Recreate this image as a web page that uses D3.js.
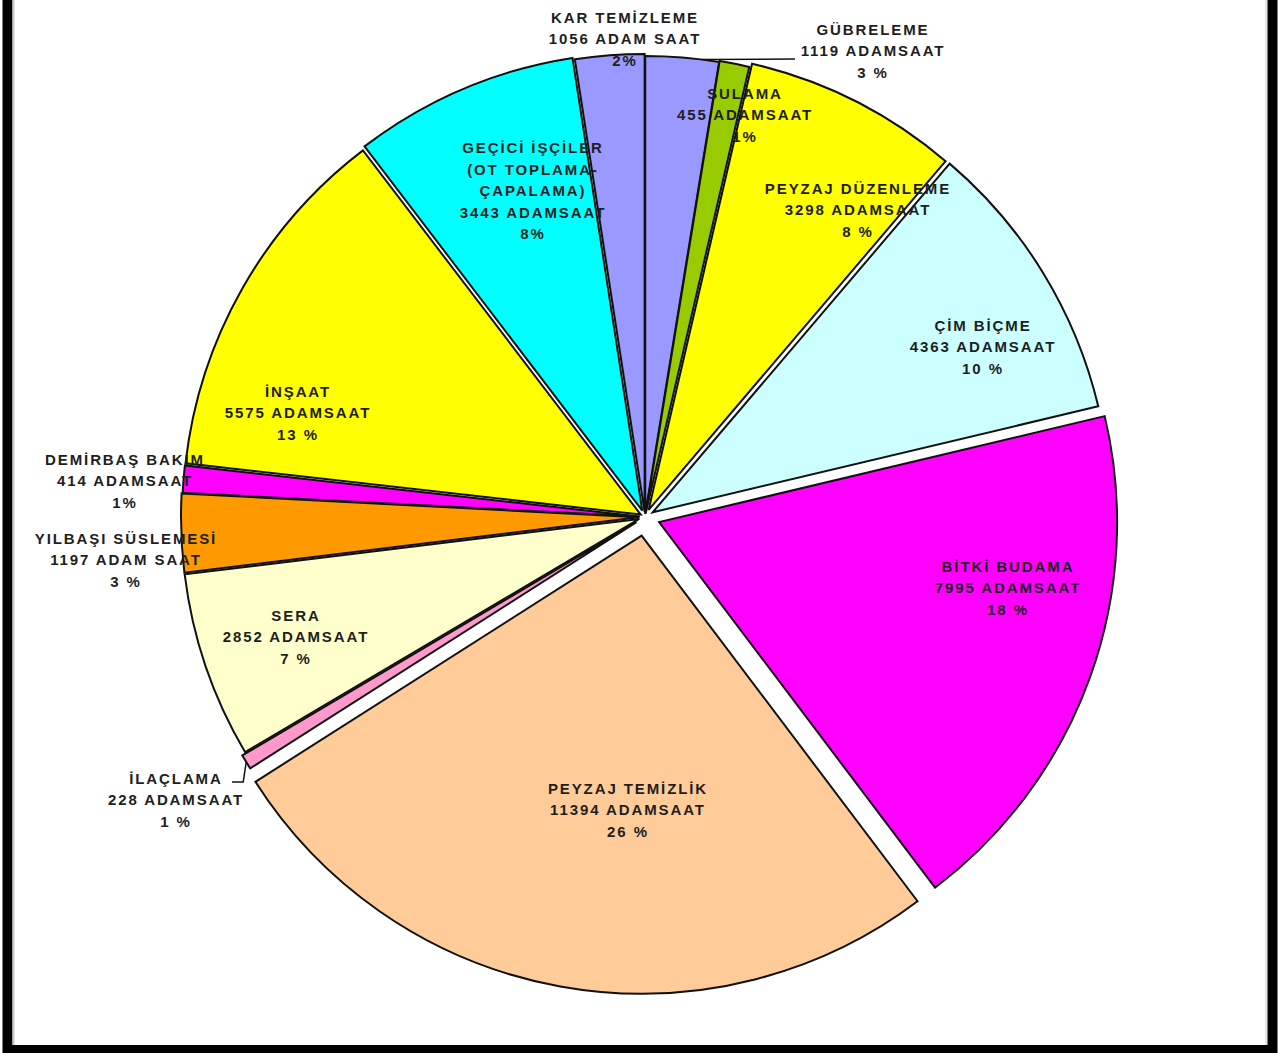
<!DOCTYPE html>
<html>
<head>
<meta charset="utf-8">
<script src="https://cdn.jsdelivr.net/npm/d3@7/dist/d3.min.js"></script>
<style>
  html, body { margin: 0; padding: 0; background: #fff; }
  svg { display: block; }
  text { font-family: "Liberation Sans", Arial, sans-serif; font-weight: bold; }
</style>
</head>
<body>
<svg id="chart" width="1281" height="1053"></svg>
<script>
// ---- data (clockwise from 12 o'clock) ----
const categories = ["GÜBRELEME", "SULAMA", "PEYZAJ DÜZENLEME", "ÇİM BİÇME", "BİTKİ BUDAMA",
  "PEYZAJ TEMİZLİK", "İLAÇLAMA", "SERA", "YILBAŞI SÜSLEMESİ", "DEMİRBAŞ BAKIM", "İNŞAAT",
  "GEÇİCİ İŞÇİLER|(OT TOPLAMA-|ÇAPALAMA)", "KAR TEMİZLEME"];
const values = [1119, 455, 3298, 4363, 7995, 11394, 228, 2852, 1197, 414, 5575, 3443, 1056];
const unitLabels = ["ADAMSAAT", "ADAMSAAT", "ADAMSAAT", "ADAMSAAT", "ADAMSAAT", "ADAMSAAT",
  "ADAMSAAT", "ADAMSAAT", "ADAM SAAT", "ADAMSAAT", "ADAMSAAT", "ADAMSAAT", "ADAM SAAT"];
const percentLabels = ["3 %", "1%", "8 %", "10 %", "18 %", "26 %", "1 %", "7 %", "3 %", "1%", "13 %", "8%", "2%"];

// ---- styles / layout ----
const colors = ["#9999FF", "#99CC00", "#FFFF00", "#CCFFFF", "#FF00FF", "#FFCC99", "#FF99CC",
  "#FFFFCC", "#FF9900", "#FF00FF", "#FFFF00", "#00FFFF", "#9999FF"];
const explode = [3, 4, 8, 9, 15, 19, 10, 6, 6, 5, 5, 7, 5];
const labelCenters = [[873, 51], [745, 115], [858, 210], [983, 347], [1008, 588], [628, 810],
  [176, 800], [296, 637], [126, 560], [125, 481], [298, 413], [533, 191], [625, 39]];
const cx = 645, cy = 517, R = 458;
const lineH = 21.5;

const svg = d3.select("#chart");

// frame
svg.append("rect").attr("x", 7.5).attr("y", -30).attr("width", 1265).attr("height", 1080)
  .attr("fill", "none").attr("stroke", "#000").attr("stroke-width", 10);
svg.append("line").attr("x1", 13.5).attr("x2", 13.5).attr("y1", 0).attr("y2", 1045)
  .attr("stroke", "#c8c8c8").attr("stroke-width", 2);
svg.append("line").attr("x1", 1266).attr("x2", 1266).attr("y1", 0).attr("y2", 1045)
  .attr("stroke", "#c8c8c8").attr("stroke-width", 1);

const pie = d3.pie().value(d => d).sort(null);
const arcs = pie(values);
const arc = d3.arc().innerRadius(0).outerRadius(R);

const g = svg.append("g").attr("transform", `translate(${cx},${cy})`);

g.selectAll("path.slice").data(arcs).join("path")
  .attr("class", "slice")
  .attr("transform", (d, i) => {
    const a = (d.startAngle + d.endAngle) / 2;
    return `translate(${explode[i] * Math.sin(a)},${-explode[i] * Math.cos(a)})`;
  })
  .attr("d", arc)
  .attr("fill", (d, i) => colors[i])
  .attr("stroke", "#111")
  .attr("stroke-width", 2)
  .attr("stroke-linejoin", "miter");

// leader lines (GÜBRELEME and İLAÇLAMA)
function arcPoint(i, r) {
  const d = arcs[i];
  const a = (d.startAngle + d.endAngle) / 2;
  const e = explode[i];
  return [cx + (r + e) * Math.sin(a), cy - (r + e) * Math.cos(a)];
}
const p0 = arcPoint(0, R);
svg.append("polyline")
  .attr("points", [[p0[0] + 20, p0[1] + 2], [795, 59]].map(p => p.join(",")).join(" "))
  .attr("fill", "none").attr("stroke", "#111").attr("stroke-width", 1.5);
const p6 = arcPoint(6, R);
svg.append("polyline")
  .attr("points", [p6, [p6[0] - 3, 782], [232, 782]].map(p => p.join(",")).join(" "))
  .attr("fill", "none").attr("stroke", "#111").attr("stroke-width", 1.5);

// labels
categories.forEach((name, i) => {
  const lines = name.split("|").concat([values[i] + " " + unitLabels[i], percentLabels[i]]);
  const [lx, ly] = labelCenters[i];
  const top = ly - (lines.length - 1) * lineH / 2;
  const t = svg.append("text")
    .attr("text-anchor", "middle")
    .attr("font-size", 15)
    .attr("fill", "#1e1e1e")
    .attr("letter-spacing", 1.9);
  lines.forEach((ln, k) => {
    t.append("tspan").attr("x", lx).attr("y", top + k * lineH).attr("dy", "0.35em").text(ln);
  });
});
</script>
</body>
</html>
